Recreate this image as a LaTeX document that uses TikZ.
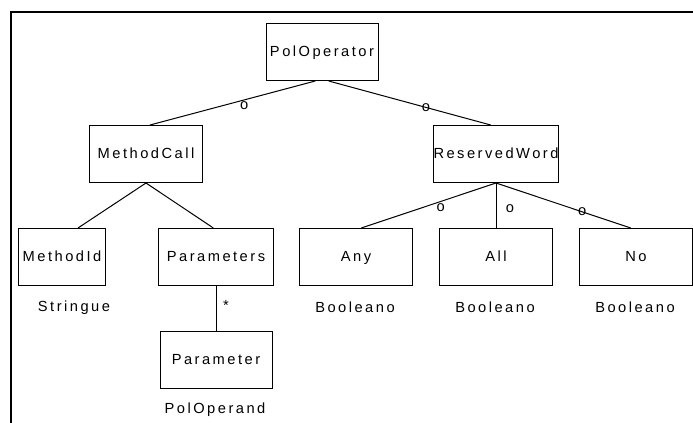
\documentclass[tikz,border=0pt]{standalone}
\usepackage{fontspec}
\newfontfamily\umlfont[LetterSpace=17]{Liberation Sans}

\begin{document}
\begin{tikzpicture}[x=0.75pt,y=-0.75pt,
  font=\umlfont\fontsize{11}{13}\selectfont,
  umlbox/.style={draw,line width=0.75pt,inner sep=0pt,
    text height=7pt,text depth=0pt,
    minimum height=42.75pt,minimum width={#1*0.75pt}},
  link/.style={line width=0.75pt},
  mult/.style={inner sep=1pt},
  typename/.style={inner sep=0pt}]
\useasboundingbox (0,0) rectangle (693,423);
\draw[line width=1.5pt] (11,423) -- (11,12) -- (693,12);

\node[umlbox=112] (pol) at (322,52) {PolOperator};
\node[umlbox=113] (mcall) at (146,154) {MethodCall};
\node[umlbox=113] (rword) at (496,154) {ReservedWord};
\node[umlbox=87] (mid) at (62,257) {MethodId};
\node[umlbox=115] (params) at (216,257) {Parameters};
\node[umlbox=112] (param) at (216,360) {Parameter};

\foreach \n/\t/\px in {any/Any/356,all/All/496,no/No/636} {
  \node[umlbox=113] (\n) at (\px,257) {\t};
  \node[typename] (\n type) at (\px-1,307) {Booleano};
}
\node[typename] (midtype) at (74,308) {Stringue};
\node[typename] (paramtype) at (215,410) {PolOperand};

\draw[link] ([xshift=-5pt]pol.south) -- ([xshift=3pt]mcall.north)
  node[mult,pos=0.43,below] {o};
\draw[link] ([xshift=5pt]pol.south) -- ([xshift=-4pt]rword.north)
  node[mult,pos=0.6] {o};
\draw[link] (mcall.south) -- ([xshift=12pt]mid.north);
\draw[link] (mcall.south) -- ([xshift=-2pt]params.north);
\draw[link] (params) -- (param)
  node[mult,pos=0.43,right=4pt] {*};
\draw[link] (rword.south) -- ([xshift=4pt]any.north)
  node[mult,pos=0.41,below] {o};
\draw[link] (rword.south) -- (all.north)
  node[mult,pos=0.57,right=6pt] {o};
\draw[link] (rword.south) -- ([xshift=-4pt]no.north)
  node[mult,pos=0.64] {o};
\end{tikzpicture}
\end{document}
